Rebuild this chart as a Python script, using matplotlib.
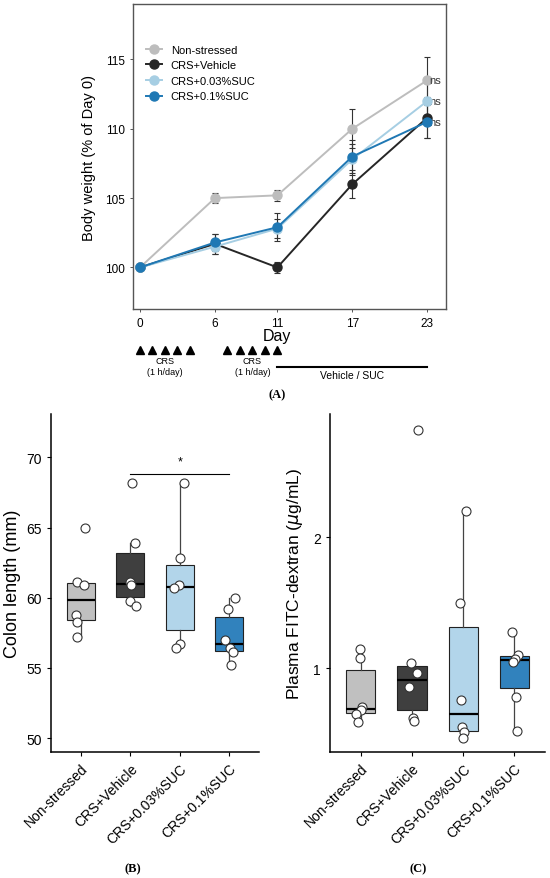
import matplotlib
matplotlib.use("Agg")
import matplotlib.pyplot as plt
from matplotlib.transforms import blended_transform_factory

plt.rcParams['font.family'] = ['Liberation Sans', 'DejaVu Sans']

groups = ["Non-stressed", "CRS+Vehicle", "CRS+0.03%SUC", "CRS+0.1%SUC"]
line_colors = ["#bdbdbd", "#262626", "#a6cee3", "#1f78b4"]
box_colors = ["#c0c0c0", "#3f3f3f", "#b2d5ea", "#3182bd"]

# panel A: body weight
days = [0, 6, 11, 17, 23]
bw_mean = [
    [100, 105.0, 105.2, 110.0, 113.5],
    [100, 101.7, 100.0, 106.0, 110.8],
    [100, 101.5, 102.8, 107.8, 112.0],
    [100, 101.8, 102.9, 108.0, 110.5],
]
bw_sem = [
    [0, 0.35, 0.4, 1.4, 1.7],
    [0, 0.7, 0.4, 1.0, 1.5],
    [0, 0.5, 0.7, 1.1, 1.3],
    [0, 0.6, 1.0, 1.2, 1.2],
]
crs_week1 = [0, 1, 2, 3, 4]
crs_week2 = [7, 8, 9, 10, 11]
treat_days = [11, 23]

# panel B: colon length (mm)
colon = [
    [65.0, 61.1, 60.9, 58.8, 58.3, 57.2],
    [68.2, 63.9, 61.1, 60.9, 59.8, 59.4],
    [68.2, 62.8, 60.9, 60.7, 56.7, 56.4],
    [60.0, 59.2, 57.0, 56.4, 56.1, 55.2],
]
colon_jit = [
    [0.08, -0.07, 0.06, -0.1, -0.07, -0.07],
    [0.03, 0.09, -0.01, 0.01, 0.0, 0.12],
    [0.08, 0.0, -0.02, -0.12, 0.0, -0.07],
    [0.12, -0.03, -0.09, 0.01, 0.07, 0.04],
]

# panel C: plasma FITC-dextran (ug/mL)
fitc = [
    [1.145, 1.08, 0.70, 0.68, 0.65, 0.59],
    [2.82, 1.04, 0.96, 0.855, 0.62, 0.60],
    [2.2, 1.5, 0.755, 0.55, 0.51, 0.47],
    [1.275, 1.10, 1.07, 1.05, 0.78, 0.52],
]
fitc_jit = [
    [-0.02, -0.02, 0.02, 0.0, -0.1, -0.05],
    [0.11, -0.02, 0.09, -0.05, 0.03, 0.05],
    [0.06, -0.06, -0.05, -0.03, 0.02, 0.0],
    [-0.05, 0.08, 0.02, -0.03, 0.03, 0.05],
]

fig = plt.figure(figsize=(5.5, 8.79), dpi=100)

# ---- (A) ----
axA = fig.add_axes([0.2418, 0.6473, 0.5691, 0.347])
for i in range(4):
    axA.errorbar(days, bw_mean[i], yerr=bw_sem[i], fmt='none', ecolor='#333333',
                 elinewidth=0.8, capsize=2.5, capthick=0.8, zorder=2)
for i in range(4):
    axA.plot(days, bw_mean[i], '-o', color=line_colors[i], lw=1.4, ms=6.5,
             label=groups[i], zorder=3 + i)
for i in [0, 2, 3]:
    axA.text(23.15, bw_mean[i][-1], "ns", fontsize=8, va='center', ha='left', color='#333333')
axA.set_xlim(-0.56, 24.5)
axA.set_ylim(97.0, 119.0)
axA.set_xticks(days)
axA.set_yticks([100, 105, 110, 115])
axA.tick_params(labelsize=8.5, length=2.5, width=0.7, color='#555555')
for s in axA.spines.values():
    s.set_color('#555555')
    s.set_linewidth(1.0)
axA.set_ylabel("Body weight (% of Day 0)", fontsize=10.5, labelpad=6)
axA.legend(loc='upper left', bbox_to_anchor=(0.0, 0.91), frameon=False, fontsize=8,
           handlelength=1.4, labelspacing=0.5, borderaxespad=0.8)

# treatment timeline under the x axis
tr = blended_transform_factory(axA.transData, axA.transAxes)
axA.text(11, -0.088, "Day", transform=tr, ha='center', va='center', fontsize=11.5)
axA.plot(crs_week1 + crs_week2, [-0.134] * 10, '^', color='black', ms=6.2,
         transform=tr, clip_on=False)
for c in [2, 9]:
    axA.text(c, -0.168, "CRS", transform=tr, ha='center', va='center', fontsize=6.5)
    axA.text(c, -0.205, "(1 h/day)", transform=tr, ha='center', va='center', fontsize=6.5)
axA.plot(treat_days, [-0.19, -0.19], color='black', lw=1.5, transform=tr, clip_on=False)
axA.text(17, -0.216, "Vehicle / SUC", transform=tr, ha='center', va='center', fontsize=7.5)
fig.text(277 / 550, 1 - 395 / 879, "(A)", family='Liberation Serif', fontsize=9,
         fontweight='bold', ha='center', va='center')


def draw_box(ax, data, jit):
    pos = list(range(4))
    bp = ax.boxplot(data, positions=pos, widths=0.57, patch_artist=True, showfliers=False,
                    whis=1.5,
                    medianprops=dict(color='black', lw=1.6),
                    boxprops=dict(edgecolor='#222222', lw=0.8),
                    whiskerprops=dict(color='#444444', lw=0.9),
                    capprops=dict(lw=0))
    for patch, c in zip(bp['boxes'], box_colors):
        patch.set_facecolor(c)
    for i in range(4):
        xs = [i + j for j in jit[i]]
        ax.scatter(xs, data[i], s=42, facecolor='white', edgecolor='#333333',
                   linewidth=0.8, zorder=4)
    ax.set_xticks(pos)
    ax.set_xticklabels(groups, rotation=45, ha='right', rotation_mode='anchor', fontsize=10)
    ax.set_xlim(-0.6, 3.6)
    for s in ['top', 'right']:
        ax.spines[s].set_visible(False)
    for s in ['left', 'bottom']:
        ax.spines[s].set_linewidth(1.1)
    ax.tick_params(axis='both', length=3, width=0.8)
    ax.tick_params(axis='y', labelsize=10)


# ---- (B) ----
axB = fig.add_axes([0.0927, 0.1433, 0.3782, 0.3846])
draw_box(axB, colon, colon_jit)
axB.set_ylim(49.0, 73.1)
axB.set_yticks([50, 55, 60, 65, 70])
axB.set_ylabel("Colon length (mm)", fontsize=13, labelpad=4)
axB.plot([1, 3], [68.8, 68.8], color='black', lw=0.8)
axB.text(2, 69.3, "*", ha='center', va='bottom', fontsize=9)
fig.text(133 / 550, 1 - 869 / 879, "(B)", family='Liberation Serif', fontsize=9,
         fontweight='bold', ha='center', va='center')

# ---- (C) ----
axC = fig.add_axes([0.6, 0.1433, 0.391, 0.3846])
draw_box(axC, fitc, fitc_jit)
axC.set_ylim(0.36, 2.94)
axC.set_yticks([1, 2])
axC.set_ylabel("Plasma FITC-dextran ($\\mu$g/mL)", fontsize=12.5, labelpad=6)
fig.text(418 / 550, 1 - 869 / 879, "(C)", family='Liberation Serif', fontsize=9,
         fontweight='bold', ha='center', va='center')

fig.savefig("out.png", dpi=100)
